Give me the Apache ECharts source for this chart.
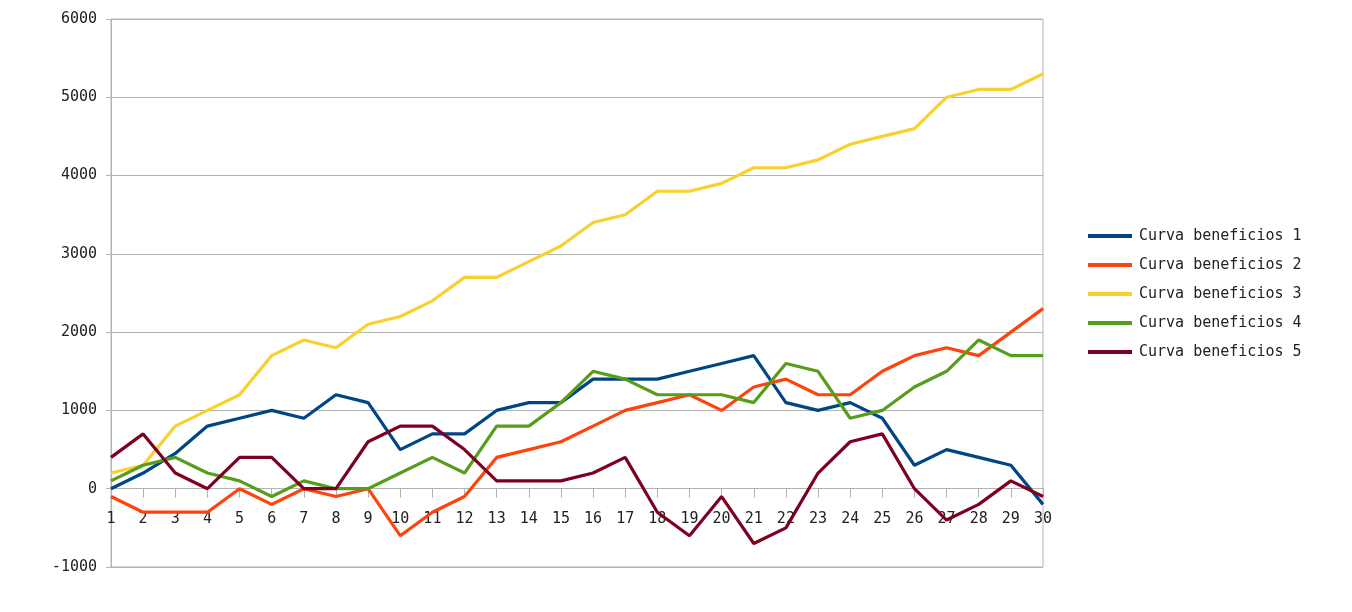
<!DOCTYPE html>
<html>
<head>
    <meta charset="utf-8">
    <title>Curva beneficios</title>
    <script src="https://cdn.jsdelivr.net/npm/echarts@6.0.0/dist/echarts.min.js"></script>
    <style>
        body, html { margin: 0; padding: 0; width: 100%; height: 100%; overflow: hidden; background: #fff; }
        #main { width: 1352px; height: 612px; }
    </style>
</head>
<body>
    <div id="main"></div>
    <script type="text/javascript">
        // categories 1..30
        var categories = ['1','2','3','4','5','6','7','8','9','10','11','12','13','14','15',
                          '16','17','18','19','20','21','22','23','24','25','26','27','28','29','30'];

        var curva1 = [0, 200, 450, 800, 900, 1000, 900, 1200, 1100, 500, 700, 700, 1000, 1100, 1100,
                      1400, 1400, 1400, 1500, 1600, 1700, 1100, 1000, 1100, 900, 300, 500, 400, 300, -200];
        var curva2 = [-100, -300, -300, -300, 0, -200, 0, -100, 0, -600, -300, -100, 400, 500, 600,
                      800, 1000, 1100, 1200, 1000, 1300, 1400, 1200, 1200, 1500, 1700, 1800, 1700, 2000, 2300];
        var curva3 = [200, 300, 800, 1000, 1200, 1700, 1900, 1800, 2100, 2200, 2400, 2700, 2700, 2900, 3100,
                      3400, 3500, 3800, 3800, 3900, 4100, 4100, 4200, 4400, 4500, 4600, 5000, 5100, 5100, 5300];
        var curva4 = [100, 300, 400, 200, 100, -100, 100, 0, 0, 200, 400, 200, 800, 800, 1100,
                      1500, 1400, 1200, 1200, 1200, 1100, 1600, 1500, 900, 1000, 1300, 1500, 1900, 1700, 1700];
        var curva5 = [400, 700, 200, 0, 400, 400, 0, 0, 600, 800, 800, 500, 100, 100, 100,
                      200, 400, -300, -600, -100, -700, -500, 200, 600, 700, 0, -400, -200, 100, -100];

        var seriesNames = ['Curva beneficios 1', 'Curva beneficios 2', 'Curva beneficios 3',
                           'Curva beneficios 4', 'Curva beneficios 5'];
        var seriesData = [curva1, curva2, curva3, curva4, curva5];
        var colors = ['#004586', '#ff420e', '#f8d030', '#579d1c', '#7e0021'];

        var font = '"DejaVu Sans Mono", monospace';

        var myChart = echarts.init(document.getElementById('main'));

        var option = {
            animation: false,
            color: colors,
            grid: {
                left: 111, right: 309, top: 19, bottom: 45,
                show: true, borderColor: '#b3b3b3', borderWidth: 1,
                containLabel: false
            },
            legend: {
                orient: 'vertical',
                left: 1083, top: 223,
                itemWidth: 44, itemHeight: 4,
                itemGap: 13,
                icon: 'rect',
                textStyle: { fontFamily: font, fontSize: 15, color: '#222', lineHeight: 16, padding: [0, 0, 0, 2] },
                data: seriesNames
            },
            xAxis: {
                type: 'category',
                data: categories,
                boundaryGap: false,
                offset: 0,
                axisLine: { onZero: false, lineStyle: { color: '#b3b3b3', width: 1 } },
                axisTick: { show: true, alignWithLabel: true, length: 9, lineStyle: { color: '#b3b3b3' } },
                axisLabel: { interval: 0, margin: 23, fontFamily: font, fontSize: 15, color: '#222' },
                splitLine: { show: false }
            },
            yAxis: {
                type: 'value',
                min: -1000, max: 6000, interval: 1000,
                axisLine: { show: true, lineStyle: { color: '#b3b3b3', width: 1 } },
                axisTick: { show: true, length: 5, lineStyle: { color: '#b3b3b3' } },
                axisLabel: {
                    margin: 14, fontFamily: font, fontSize: 15, color: '#222',
                    formatter: function (v) { return String(v); }
                },
                splitLine: { show: true, lineStyle: { color: '#b3b3b3', width: 1 } }
            },
            series: seriesData.map(function (d, i) {
                return {
                    name: seriesNames[i],
                    type: 'line',
                    data: d,
                    showSymbol: false,
                    symbol: 'none',
                    lineStyle: { width: 3.2, color: colors[i] },
                    itemStyle: { color: colors[i] }
                };
            })
        };

        myChart.setOption(option);

        // move the category axis (line, ticks and labels) up to the zero line
        var zeroY = myChart.convertToPixel({ yAxisIndex: 0 }, 0);
        var bottomY = myChart.convertToPixel({ yAxisIndex: 0 }, -1000);
        myChart.setOption({ xAxis: { offset: -(bottomY - zeroY) } });
    </script>
</body>
</html>
